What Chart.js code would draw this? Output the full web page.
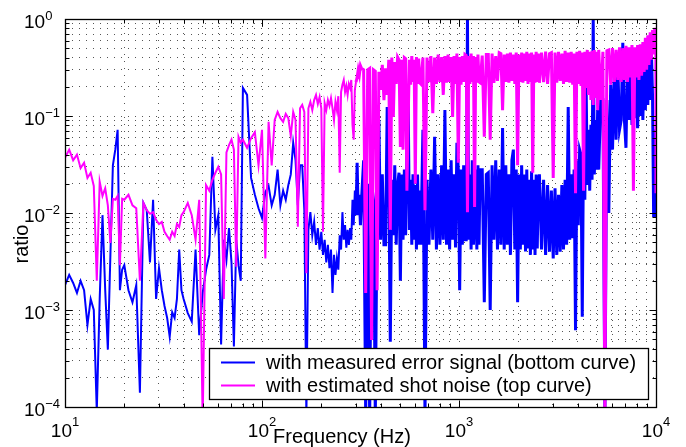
<!DOCTYPE html>
<html><head><meta charset="utf-8">
<script src="https://cdn.jsdelivr.net/npm/chart.js@4/dist/chart.umd.min.js"></script>
<style>html,body{margin:0;padding:0;background:#fff;}canvas{display:block;}</style>
</head><body>
<canvas id="c" width="686" height="447"></canvas>
<script>
// Frequency (Hz)
const freq = [
10,10.5,11,11.5,12,12.5,13,13.5,14,14.5,15,15.5,16,16.5,17,17.5,18,18.5,19,19.5,
20,21,22,23,24,25,26,27,28,29,30,31,32,33,34,35,36,37,38,39,
40,42,44,46,48,50,52,54,56,58,60,62,64,66,68,70,72,74,76,78,
80,84,88,92,96,100,104,108,112,116,120,124,128,132,136,140,144,148,152,156,
160,164,168,172,176,180,184,188,192,196,200,204,208,212,216,220,224,228,232,236,240,244,248,252,256,260,264,268,272,276,280,284,288,292,296,300,304,308,312,316,
320,328,336,344,352,360,368,376,384,392,400,408,416,424,432,440,448,456,464,472,480,488,496,504,512,520,528,536,544,552,560,568,576,584,592,600,608,616,624,632,
640,656,672,688,704,720,736,752,768,784,800,816,832,848,864,880,896,912,928,944,960,976,992,1008,1024,1040,1056,1072,1088,1104,1120,1136,1152,1168,1184,1200,1216,1232,1248,1264,
1280,1312,1344,1376,1408,1440,1472,1504,1536,1568,1600,1632,1664,1696,1728,1760,1792,1824,1856,1888,1920,1952,1984,2016,2048,2080,2112,2144,2176,2208,2240,2272,2304,2336,2368,2400,2432,2464,2496,2528,
2560,2624,2688,2752,2816,2880,2944,3008,3072,3136,3200,3264,3328,3392,3456,3520,3584,3648,3712,3776,3840,3904,3968,4032,4096,4160,4224,4288,4352,4416,4480,4544,4608,4672,4736,4800,4864,4928,4992,5056,
5120,5248,5376,5504,5632,5760,5888,6016,6144,6272,6400,6528,6656,6784,6912,7040,7168,7296,7424,7552,7680,7808,7936,8064,8192,8320,8448,8576,8704,8832,8960,9088,9216,9344,9472,9600,9728,9856,9984,10000
];

// ratio with measured error signal (bottom curve, blue)
const errorSignal = [
0.0018,0.0023,0.0019,0.0015,0.002,0.0016,7e-4,0.0013,0.001,9e-5,0.0013,0.0095,0.0016,3.9e-4,0.0037,0.031,0.045,0.072,0.0016,0.0026,
0.0029,0.0016,0.0012,0.0018,1.4e-4,0.0127,0.0107,0.0031,0.0137,0.0013,0.0027,0.0016,0.0011,8.3e-4,5.3e-4,9.5e-4,8.3e-4,0.0013,0.0042,0.0016,
0.0013,9.3e-4,7.6e-4,0.0042,5.5e-4,0.0015,0.0026,0.0037,0.038,0.0067,0.0095,4.4e-4,0.0053,0.0033,0.007,0.0031,4.2e-4,0.0053,0.0029,0.002,
0.195,0.165,0.023,0.0154,0.0112,0.0089,0.0164,0.019,0.012,0.0154,0.028,0.012,0.017,0.0137,0.0194,0.025,0.053,0.035,0.012,0.031,
0.031,0.0107,8e-5,0.0067,0.0102,0.0059,0.0081,0.0047,0.007,0.0042,0.0064,0.0037,0.0053,0.0031,0.0047,0.0027,0.0042,0.0015,0.0037,0.0023,
0.0034,0.0026,0.0059,0.0042,0.0102,0.0053,0.0075,0.0044,0.0067,0.0047,0.007,0.0053,0.0137,0.0075,0.017,0.0095,0.033,0.0095,0.0154,0.0075,
0.0137,0.035,8e-5,0.02,8e-5,0.02,0.0137,8e-5,0.012,0.091,0.0053,0.025,0.0047,0.0047,0.124,0.025,4.7e-4,0.022,0.0059,0.031,
0.0047,0.0194,0.026,0.002,0.025,0.0053,0.028,0.0059,0.045,0.157,0.0067,0.022,0.0047,0.025,0.0053,0.0194,0.0042,0.025,0.0047,0.017,
0.0047,0.072,8e-5,0.022,0.0047,0.028,0.0053,0.061,0.0042,0.025,0.0047,0.031,0.0053,0.115,0.0047,0.028,0.0042,0.035,0.0053,0.025,
0.0044,0.053,0.028,0.0016,0.028,0.0047,0.031,0.0053,0.0053,1.0,0.0053,0.025,0.0042,0.035,0.0047,0.0091,0.028,0.0042,0.031,0.0047,
0.028,0.028,0.0012,0.025,0.026,0.001,0.031,0.0053,0.035,0.0042,0.028,0.0047,0.075,0.0042,0.031,0.0047,0.025,0.0037,0.035,0.045,
0.0042,0.028,0.0012,0.025,0.0042,0.031,0.0047,0.025,0.004,0.028,0.0043,0.022,0.0037,0.027,0.0042,0.022,0.0037,0.025,0.0043,0.021,
0.025,0.0042,0.022,0.0037,0.0194,0.004,0.017,0.0034,0.018,0.0037,0.0154,0.004,0.0194,0.0042,0.022,0.0047,0.124,0.0053,0.025,0.0055,
0.028,6.2e-4,0.035,0.0075,0.045,0.04,8.5e-4,0.057,0.0137,0.235,0.0194,0.072,0.017,0.081,0.022,1.0,0.025,0.091,0.028,0.115,
0.028,0.165,0.15,8e-5,0.146,0.01,0.21,0.045,0.30,0.057,0.336,0.072,0.09,0.57,0.091,0.047,0.38,0.091,0.43,0.081,
0.36,0.095,0.43,0.075,0.336,0.1,0.43,0.091,0.38,0.115,0.46,0.13,0.48,0.146,0.50,0.165,0.0091,0.062,0.072,0.0091
];

// ratio with estimated shot noise (top curve, magenta)
const shotNoise = [
0.037,0.045,0.035,0.040,0.029,0.033,0.023,0.026,0.019,0.002,0.021,0.015,0.018,0.012,0.0049,0.014,0.0137,0.015,0.0029,0.014,
0.0137,0.0154,0.012,0.0112,0.002,0.0127,0.0107,0.0098,0.0102,0.0085,0.0077,0.0081,0.0064,0.0058,0.0053,0.0064,0.0058,0.0077,0.0072,0.0095,
0.0102,0.0127,0.0095,0.0053,0.0137,7e-5,0.0194,0.017,0.022,0.026,0.030,0.025,0.0013,0.042,0.050,0.057,0.045,0.0028,0.061,0.053,
0.057,0.047,0.059,0.068,0.031,0.072,0.0034,0.087,0.031,0.091,0.11,0.095,0.087,0.105,0.095,0.062,0.11,0.091,0.0072,0.12,
0.13,0.11,0.0024,0.12,0.14,0.115,0.146,0.165,0.133,0.157,0.12,0.0064,0.136,0.115,0.146,0.127,0.153,0.12,0.091,0.14,
0.115,0.16,0.026,0.177,0.21,0.235,0.177,0.204,0.165,0.214,0.195,0.235,0.081,0.057,0.186,0.224,0.25,0.30,0.265,0.33,
0.31,0.30,0.0015,0.30,0.31,4.9e-4,0.30,0.29,0.0016,0.285,0.186,0.336,0.146,0.31,0.165,0.38,0.0067,0.40,0.098,0.36,
0.214,0.405,0.38,0.048,0.38,0.045,0.40,0.39,0.017,0.091,0.38,0.21,0.415,0.224,0.38,0.020,0.405,0.214,0.39,0.22,
0.214,0.40,0.0107,0.40,0.224,0.415,0.107,0.40,0.214,0.43,0.224,0.405,0.165,0.415,0.22,0.43,0.224,0.405,0.098,0.415,
0.214,0.44,0.033,0.405,0.21,0.415,0.224,0.43,0.42,0.0102,0.415,0.214,0.44,0.224,0.415,0.0115,0.405,0.22,0.43,0.224,
0.22,0.42,0.061,0.43,0.43,0.057,0.44,0.22,0.415,0.23,0.45,0.44,0.115,0.43,0.224,0.44,0.22,0.45,0.23,0.43,
0.214,0.45,0.031,0.43,0.224,0.45,0.22,0.44,0.23,0.46,0.214,0.44,0.224,0.45,0.026,0.43,0.22,0.46,0.224,0.44,
0.22,0.45,0.224,0.46,0.214,0.44,0.45,0.023,0.45,0.22,0.46,0.23,0.44,0.214,0.47,0.224,0.45,0.22,0.46,0.21,
0.44,0.016,0.46,0.214,0.47,0.204,0.45,0.017,0.46,0.195,0.48,0.165,0.46,0.146,0.47,0.13,0.48,0.153,0.46,0.115,
0.48,0.146,0.46,9e-5,0.47,0.48,0.21,0.50,0.224,0.48,0.235,0.51,0.224,0.50,0.235,0.53,0.224,0.51,0.25,0.54,
0.017,0.51,0.25,0.54,0.235,0.55,0.26,0.58,0.285,0.64,0.30,0.68,0.336,0.73,0.38,0.77,0.43,0.81,0.61,0.016
];

const xMajor = [10, 100, 1000, 10000];
const xExp = ['1', '2', '3', '4'];
const yMajor = [1e-4, 1e-3, 1e-2, 1e-1, 1];
const yExp = ['\u22124', '\u22123', '\u22122', '\u22121', '0'];
const seriesNames = ['with measured error signal (bottom curve)', 'with estimated shot noise (top curve)'];
const seriesColors = ['#0000ff', '#ff00ff'];
const xTitle = 'Frequency (Hz)';
const yTitle = 'ratio';

function logTicks(majors) {
  const out = [];
  for (let i = 0; i < majors.length - 1; i++) {
    for (let k = 1; k <= 9; k++) out.push({ value: k * majors[i], major: k === 1 });
  }
  out.push({ value: majors[majors.length - 1], major: true });
  return out;
}

const FONT = '"Liberation Sans", Arial, Helvetica, sans-serif';

const decorations = {
  id: 'decorations',
  afterDraw(chart) {
    const { ctx, chartArea: a, scales: { x, y } } = chart;
    ctx.save();
    ctx.strokeStyle = '#000';
    ctx.lineWidth = 1;
    const L = Math.round(a.left) + 0.5, T = Math.round(a.top) + 0.5;
    const R = Math.round(a.right) + 0.5, B = Math.round(a.bottom) + 0.5;
    ctx.beginPath();
    x.ticks.forEach(t => {
      const px = Math.round(x.getPixelForValue(t.value)) + 0.5;
      const len = t.major ? 7 : 4;
      ctx.moveTo(px, B); ctx.lineTo(px, B - len);
      ctx.moveTo(px, T); ctx.lineTo(px, T + len);
    });
    y.ticks.forEach(t => {
      const py = Math.round(y.getPixelForValue(t.value)) + 0.5;
      const len = t.major ? 7 : 4;
      ctx.moveTo(L, py); ctx.lineTo(L + len, py);
      ctx.moveTo(R, py); ctx.lineTo(R - len, py);
    });
    ctx.stroke();
    ctx.lineWidth = 1.3;
    ctx.strokeRect(L, T, R - L, B - T);

    // tick labels
    const big = '19px ' + FONT, small = '13px ' + FONT;
    ctx.fillStyle = '#000';
    ctx.textAlign = 'left';
    ctx.textBaseline = 'alphabetic';
    ctx.font = big;
    const w10 = ctx.measureText('10').width;
    xMajor.forEach((v, i) => {
      const px = x.getPixelForValue(v);
      ctx.font = small;
      const ws = ctx.measureText(xExp[i]).width;
      const sx = px - (w10 + ws) / 2;
      ctx.font = big; ctx.fillText('10', sx, a.bottom + 30);
      ctx.font = small; ctx.fillText(xExp[i], sx + w10, a.bottom + 19);
    });
    yMajor.forEach((v, i) => {
      const py = y.getPixelForValue(v);
      ctx.font = big; ctx.fillText('10', 24, py + 8.5);
      ctx.font = small; ctx.fillText(yExp[i], 24 + w10, py + 1);
    });

    // axis titles
    ctx.font = '20px ' + FONT;
    ctx.fillText(xTitle, 273, a.bottom + 36);
    ctx.save();
    ctx.translate(28, 244);
    ctx.rotate(-Math.PI / 2);
    ctx.textAlign = 'center';
    ctx.fillText(yTitle, 0, 0);
    ctx.restore();

    // legend
    const lx = 209, ly = 348, lw = 439, lh = 51;
    ctx.fillStyle = '#fff';
    ctx.fillRect(lx, ly, lw, lh);
    ctx.strokeStyle = '#000';
    ctx.lineWidth = 1.3;
    ctx.strokeRect(lx + 0.5, ly + 0.5, lw, lh);
    ctx.font = '20px ' + FONT;
    ctx.textBaseline = 'middle';
    seriesNames.forEach((name, i) => {
      const yy = ly + 14.5 + i * 23;
      ctx.strokeStyle = seriesColors[i];
      ctx.lineWidth = 2;
      ctx.beginPath(); ctx.moveTo(221, yy); ctx.lineTo(255, yy); ctx.stroke();
      ctx.fillStyle = '#000';
      ctx.fillText(name, 266, yy + 1);
    });
    ctx.restore();
  }
};

const gridOpts = { color: '#555', lineWidth: 1, drawTicks: false };
const denseWidth = c => (c.p0.parsed.x >= 300 ? 3 : 2);

new Chart(document.getElementById('c'), {
  type: 'line',
  data: {
    datasets: [
      { label: seriesNames[0], data: freq.map((f, i) => ({ x: f, y: errorSignal[i] })),
        borderColor: seriesColors[0], borderWidth: 2, segment: { borderWidth: denseWidth },
        pointRadius: 0, fill: false, tension: 0, clip: 0, order: 1 },
      { label: seriesNames[1], data: freq.map((f, i) => ({ x: f, y: shotNoise[i] })),
        borderColor: seriesColors[1], borderWidth: 2, segment: { borderWidth: denseWidth },
        pointRadius: 0, fill: false, tension: 0, clip: 0, order: 0 }
    ]
  },
  options: {
    responsive: false,
    animation: false,
    devicePixelRatio: 1,
    layout: { padding: { left: 0, right: 30, top: 19, bottom: 0 } },
    plugins: { legend: { display: false }, tooltip: { enabled: false } },
    scales: {
      x: {
        type: 'logarithmic', min: 10, max: 10000,
        afterBuildTicks: s => { s.ticks = logTicks(xMajor); },
        afterFit: s => { s.height = 40; },
        ticks: { display: false, autoSkip: false },
        grid: gridOpts,
        border: { display: false, dash: [1, 6] }
      },
      y: {
        type: 'logarithmic', min: 1e-4, max: 1,
        afterBuildTicks: s => { s.ticks = logTicks(yMajor); },
        afterFit: s => { s.width = 65; },
        ticks: { display: false, autoSkip: false },
        grid: gridOpts,
        border: { display: false, dash: [1, 6] }
      }
    }
  },
  plugins: [decorations]
});
</script>
</body></html>
